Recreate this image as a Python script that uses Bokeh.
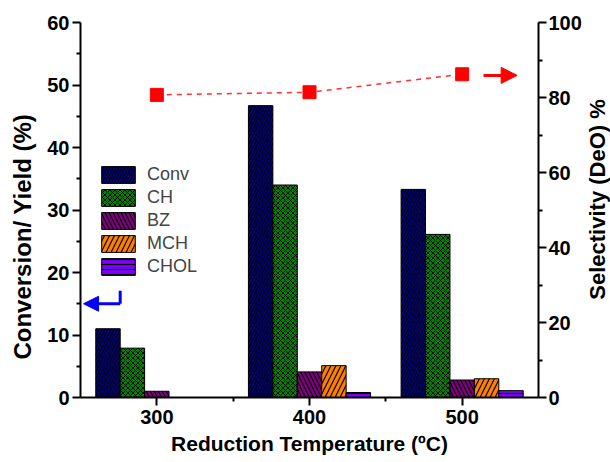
import math
from bokeh.plotting import figure
from bokeh.layouts import row
from bokeh.core.properties import value
from bokeh.models import (ColumnDataSource, Range1d, LinearAxis, Legend, LegendItem,
                          FixedTicker, Arrow, NormalHead)
from bokeh.transform import dodge
from bokeh.embed import file_html
from bokeh.resources import INLINE

temps = [300, 400, 500]
conv = [11.0, 46.7, 33.3]
ch = [7.9, 34.0, 26.1]
bz = [1.0, 4.1, 2.8]
mch = [0.0, 5.1, 3.0]
chol = [0.0, 0.8, 1.1]
selectivity = [80.7, 81.4, 86.2]

series_names = ["Conv", "CH", "BZ", "MCH", "CHOL"]
colors = ["#000080", "#008000", "#800080", "#FF8000", "#8000FF"]
hatches = ["/", "x", "\\", "/", "-"]
hatch_scales = [6, 5, 8, 10, 5]
hatch_weights = [1.2, 1.0, 1.2, 1.2, 1.2]
offsets = [-32, -16, 0, 16, 32]
bar_w = 16

FONT = "Liberation Sans"

p = figure(width=584, height=462, output_backend="svg", toolbar_location=None,
           x_range=Range1d(250, 550), y_range=Range1d(0, 60),
           min_border_left=80, min_border_right=44, min_border_top=22, min_border_bottom=65)
p.extra_y_ranges = {"sel": Range1d(0, 100)}
p.outline_line_color = None
p.xgrid.visible = False
p.ygrid.visible = False
p.background_fill_color = "white"
p.border_fill_color = "white"

src = ColumnDataSource(dict(t=temps, Conv=conv, CH=ch, BZ=bz, MCH=mch, CHOL=chol, sel=selectivity))

renderers = []
for name, col, hp, hs, hw, off in zip(series_names, colors, hatches, hatch_scales, hatch_weights, offsets):
    r = p.vbar(x=dodge("t", off), top=name, width=bar_w, source=src,
               fill_color=col, line_color="black", line_width=1,
               hatch_pattern=hp, hatch_color="black", hatch_scale=hs, hatch_weight=hw)
    renderers.append(r)

p.line(x="t", y="sel", source=src, y_range_name="sel", line_color="#FF3030",
       line_dash="5 5", line_width=1.5)
p.scatter(x="t", y="sel", source=src, y_range_name="sel", marker="square", size=13,
          fill_color="red", line_color="red")

# arrows
p.add_layout(Arrow(end=NormalHead(size=15, fill_color="blue", line_color="blue"),
                   x_start=276, y_start=15, x_end=252, y_end=15,
                   line_color="blue", line_width=3))
p.segment(x0=[276], y0=[15], x1=[276], y1=[17.1], line_color="blue", line_width=3)
p.add_layout(Arrow(end=NormalHead(size=16, fill_color="red", line_color="red"),
                   x_start=514, y_start=85.9, x_end=536, y_end=85.9,
                   line_color="red", line_width=3, y_range_name="sel"))

def style_axis(ax, label_size):
    ax.axis_line_width = 2
    ax.major_tick_line_width = 2
    ax.minor_tick_line_width = 2
    ax.major_tick_out = 8
    ax.major_tick_in = 0
    ax.minor_tick_out = 4
    ax.minor_tick_in = 0
    ax.major_label_text_font = FONT
    ax.major_label_text_font_style = "bold"
    ax.major_label_text_font_size = "20px"
    ax.major_label_text_color = "black"
    ax.axis_label_text_font = FONT
    ax.axis_label_text_font_style = "bold"
    ax.axis_label_text_font_size = label_size
    ax.axis_label_text_color = "black"

xa = p.xaxis[0]
xa.ticker = FixedTicker(ticks=temps, minor_ticks=[350, 450])
xa.axis_label = "Reduction Temperature (ºC)"
style_axis(xa, "21px")
xa.major_label_standoff = 4
xa.axis_label_standoff = 5

ya = p.yaxis[0]
ya.ticker = FixedTicker(ticks=[0, 10, 20, 30, 40, 50, 60],
                        minor_ticks=[5, 15, 25, 35, 45, 55])
ya.axis_label = "Conversion/ Yield (%)" + "\u00a0" * 8
style_axis(ya, "24px")
ya.major_label_standoff = 3
ya.axis_label_standoff = 8

ra = LinearAxis(y_range_name="sel",
                ticker=FixedTicker(ticks=[0, 20, 40, 60, 80, 100],
                                   minor_ticks=[10, 30, 50, 70, 90]))
style_axis(ra, "22px")
ra.major_label_standoff = 2
p.add_layout(ra, "right")

legend = Legend(items=[LegendItem(label=n, renderers=[r]) for n, r in zip(series_names, renderers)],
                location=(17, 120), glyph_width=42, glyph_height=21, spacing=2,
                label_standoff=8, padding=0, margin=0, border_line_color=None,
                background_fill_alpha=0, label_text_font=FONT, label_text_font_size="18px",
                label_height=21)
p.add_layout(legend, "center")

# narrow strip holding the right axis title, reading bottom-to-top
p2 = figure(width=26, height=462, output_backend="svg", toolbar_location=None,
            x_range=Range1d(0, 26), y_range=Range1d(462, 0),
            x_axis_location=None, y_axis_location=None,
            min_border_left=0, min_border_right=0, min_border_top=0, min_border_bottom=0)
p2.outline_line_color = None
p2.xgrid.visible = False
p2.ygrid.visible = False
p2.text(x=[13], y=[218], text=["Selectivity (DeO) %"], angle=math.pi / 2,
        text_align="center", text_baseline="middle", text_font=value(FONT),
        text_font_style="bold", text_font_size="22px", text_color="black")

layout = row(p, p2, spacing=0)
open("out.html", "w").write(file_html(layout, INLINE))
